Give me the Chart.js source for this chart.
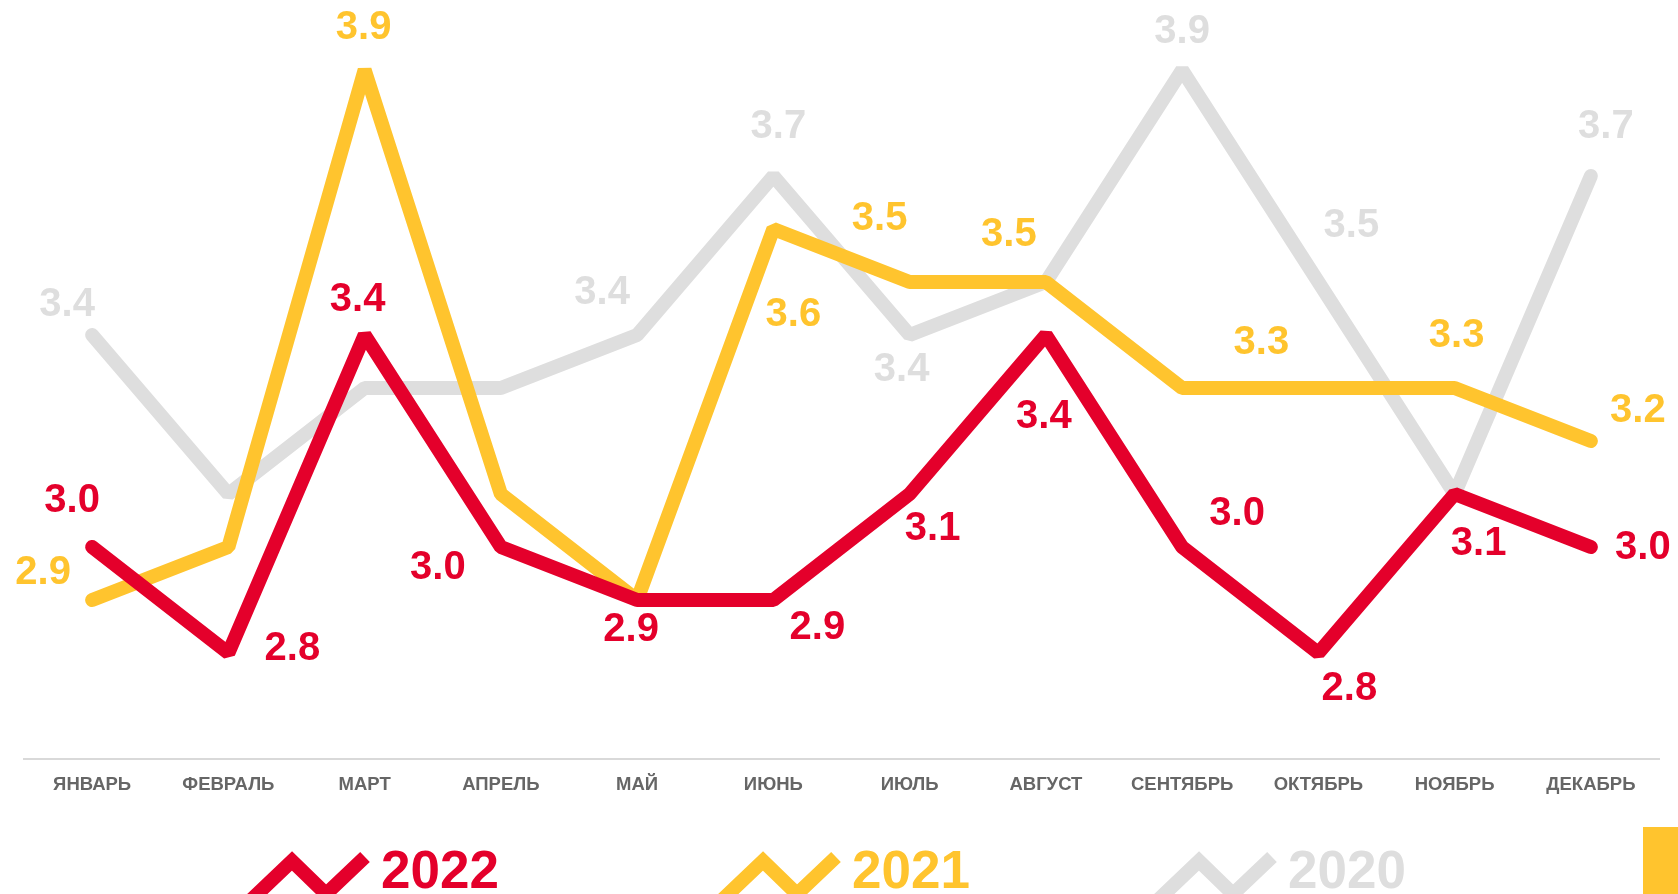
<!DOCTYPE html>
<html>
<head>
<meta charset="utf-8">
<script src="https://cdn.jsdelivr.net/npm/chart.js@4.4.1/dist/chart.umd.min.js"></script>
<style>
  html, body { margin: 0; padding: 0; background: #fff; overflow: hidden; }
  canvas { display: block; }
</style>
</head>
<body>
<canvas id="grafico" width="1678" height="894"></canvas>
<script>
const months = ['ЯНВАРЬ', 'ФЕВРАЛЬ', 'МАРТ', 'АПРЕЛЬ', 'МАЙ', 'ИЮНЬ', 'ИЮЛЬ', 'АВГУСТ', 'СЕНТЯБРЬ', 'ОКТЯБРЬ', 'НОЯБРЬ', 'ДЕКАБРЬ'];
const years = ['2022', '2021', '2020'];
const values2022 = [3.0, 2.8, 3.4, 3.0, 2.9, 2.9, 3.1, 3.4, 3.0, 2.8, 3.1, 3.0];
const values2021 = [2.9, 3.0, 3.9, 3.1, 2.9, 3.6, 3.5, 3.5, 3.3, 3.3, 3.3, 3.2];
const values2020 = [3.4, 3.1, 3.3, 3.3, 3.4, 3.7, 3.4, 3.5, 3.9, 3.5, 3.1, 3.7];

// where each value label sits relative to its point (null = no label)
const labelPos2022 = [[-20, -46], [64, -4], [-7, -35], [-63, 21], [-6, 30], [44, 28], [23, 35], [-2, 82], [55, -33], [31, 36], [24, 50], [52, 1]];
const labelPos2021 = [[-49, -27], null, [-1, -42], null, null, [20, 86], [-30, -63], [-37, -47], null, [-57, -45], [2, -52], [47, -30]];
const labelPos2020 = [[-25, -30], null, null, null, [-35, -42], [5, -49], [-8, 35], null, [0, -38], [33, -56], null, [15, -49]];

const RED = '#e4002b';
const YELLOW = '#ffc42e';
const GRAY = '#dedede';
const FONT = '"Liberation Sans", Arial, sans-serif';

function serie(label, valores, cor, posicoes) {
  return {
    label: label,
    data: valores,
    borderColor: cor,
    backgroundColor: cor,
    borderWidth: 14,
    borderCapStyle: 'round',
    borderJoinStyle: 'bevel',
    pointRadius: 0,
    tension: 0,
    clip: false,
    labelOffsets: posicoes
  };
}

const rotulos = {
  id: 'rotulos',
  afterDatasetsDraw(chart) {
    const ctx = chart.ctx;
    ctx.save();
    ctx.font = 'bold 40px ' + FONT;
    ctx.textAlign = 'center';
    ctx.textBaseline = 'middle';
    chart.data.datasets.forEach((ds, di) => {
      const meta = chart.getDatasetMeta(di);
      ctx.fillStyle = ds.borderColor;
      meta.data.forEach((pt, i) => {
        const off = ds.labelOffsets[i];
        if (!off) return;
        ctx.fillText(ds.data[i].toFixed(1), pt.x + off[0], pt.y + off[1]);
      });
    });
    ctx.restore();
  }
};

const legenda = {
  id: 'legenda',
  afterDraw(chart) {
    const ctx = chart.ctx;
    const xs = [381, 852, 1288];
    ctx.save();
    chart.data.datasets.forEach((ds, i) => {
      const x = xs[i];
      ctx.strokeStyle = ds.borderColor;
      ctx.lineWidth = 14;
      ctx.lineCap = 'butt';
      ctx.lineJoin = 'miter';
      ctx.beginPath();
      ctx.moveTo(x - 130, 900);
      ctx.lineTo(x - 89, 861);
      ctx.lineTo(x - 55, 894);
      ctx.lineTo(x - 16, 857);
      ctx.stroke();
      ctx.fillStyle = ds.borderColor;
      ctx.font = 'bold 53px ' + FONT;
      ctx.textAlign = 'left';
      ctx.textBaseline = 'alphabetic';
      ctx.fillText(ds.label, x, 888);
    });
    ctx.fillStyle = YELLOW;
    ctx.fillRect(1643, 827, 35, 67);
    ctx.restore();
  }
};

new Chart(document.getElementById('grafico'), {
  type: 'line',
  data: {
    labels: months,
    datasets: [
      serie(years[0], values2022, RED, labelPos2022),
      serie(years[1], values2021, YELLOW, labelPos2021),
      serie(years[2], values2020, GRAY, labelPos2020)
    ]
  },
  options: {
    responsive: false,
    maintainAspectRatio: false,
    animation: false,
    layout: { padding: { left: 24, right: 19, top: 17, bottom: 0 } },
    plugins: {
      legend: { display: false },
      title: { display: false },
      tooltip: { enabled: false }
    },
    scales: {
      x: {
        offset: true,
        grid: { display: true, drawOnChartArea: false, drawTicks: false },
        border: { display: true, color: '#d9d9d9', width: 2 },
        ticks: {
          color: '#666666',
          padding: 15,
          autoSkip: false,
          maxRotation: 0,
          font: { family: FONT, size: 18.5, weight: 'bold' }
        },
        afterFit(scale) { scale.height = 135; }
      },
      y: {
        display: false,
        min: 2.6,
        max: 4.0
      }
    }
  },
  plugins: [rotulos, legenda]
});
</script>
</body>
</html>
